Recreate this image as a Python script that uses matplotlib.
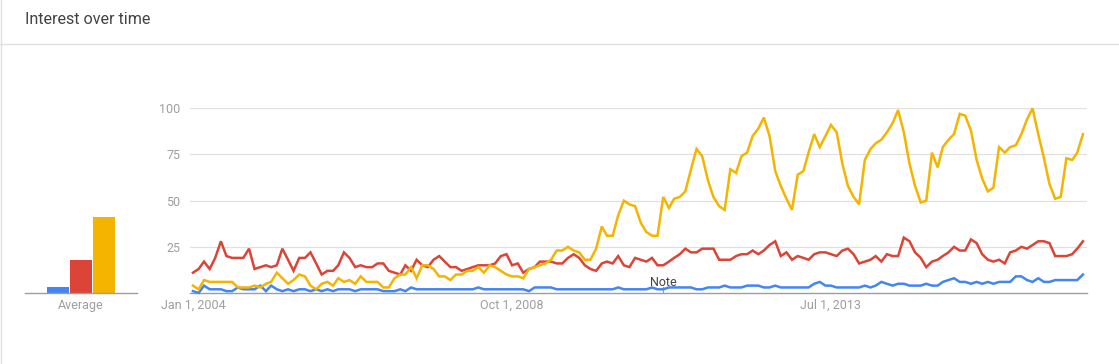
import numpy as np
import pandas as pd
import matplotlib
matplotlib.use("Agg")
import matplotlib.pyplot as plt
import matplotlib.dates as mdates
from matplotlib.lines import Line2D

plt.rcParams['font.family'] = ['Roboto', 'DejaVu Sans']

# ---------------- data ----------------
start_month = "2004-01-01"
n_months = 160

blue_vals = [1, 0, 4, 2, 2, 2, 1, 1, 3, 2, 2, 2, 4, 1, 4, 2, 1, 2, 1, 2,
             2, 1, 2, 1, 2, 1, 2, 2, 2, 1, 2, 2, 2, 2, 1, 1, 1, 2, 1, 3,
             2, 2, 2, 2, 2, 2, 2, 2, 2, 2, 2, 3, 2, 2, 2, 2, 2, 2, 2, 2,
             1, 3, 3, 3, 3, 2, 2, 2, 2, 2, 2, 2, 2, 2, 2, 2, 3, 2, 2, 2,
             2, 2, 3, 2, 2, 3, 3, 3, 3, 3, 2, 2, 3, 3, 3, 4, 3, 3, 3, 4,
             4, 4, 3, 3, 4, 3, 3, 3, 3, 3, 3, 5, 6, 4, 4, 3, 3, 3, 3, 3,
             4, 3, 4, 6, 5, 4, 5, 5, 4, 4, 4, 5, 4, 4, 6, 7, 8, 6, 6, 5,
             6, 5, 6, 5, 6, 6, 6, 9, 9, 7, 6, 8, 6, 6, 7, 7, 7, 7, 7, 10]

red_vals = [11, 13, 17, 13, 19, 28, 20, 19, 19, 19, 24, 13, 14, 15, 14, 15, 24, 18, 12, 19,
            19, 22, 16, 10, 12, 12, 15, 22, 19, 14, 15, 14, 14, 16, 16, 12, 11, 10, 15, 12,
            18, 15, 14, 18, 20, 17, 14, 14, 12, 13, 14, 15, 15, 15, 16, 20, 21, 15, 16, 11,
            13, 14, 17, 17, 17, 16, 16, 19, 21, 19, 15, 13, 12, 16, 17, 16, 20, 15, 14, 19,
            18, 17, 19, 15, 15, 17, 19, 21, 24, 22, 22, 24, 24, 24, 18, 18, 18, 20, 21, 21,
            23, 21, 23, 26, 28, 20, 22, 18, 20, 19, 18, 21, 22, 22, 21, 20, 23, 24, 21, 16,
            17, 18, 20, 17, 21, 20, 20, 30, 28, 22, 19, 14, 17, 18, 20, 22, 25, 23, 23, 29,
            27, 21, 18, 17, 18, 16, 22, 23, 25, 24, 26, 28, 28, 27, 20, 20, 20, 21, 24, 28]

yellow_vals = [4, 2, 7, 6, 6, 6, 6, 6, 3, 3, 3, 4, 3, 5, 6, 11, 8, 5, 7, 10,
               9, 4, 2, 5, 6, 4, 8, 6, 7, 5, 9, 6, 6, 6, 3, 3, 8, 10, 10, 14,
               8, 15, 15, 13, 9, 9, 7, 10, 10, 12, 12, 14, 11, 15, 14, 12, 10, 9, 9, 8,
               13, 14, 15, 16, 18, 23, 23, 25, 23, 22, 18, 18, 24, 36, 31, 31, 42, 50, 48, 47,
               38, 33, 31, 31, 52, 46, 51, 52, 55, 67, 78, 74, 61, 52, 47, 45, 67, 65, 74, 76,
               85, 89, 95, 85, 66, 58, 51, 45, 64, 66, 76, 86, 79, 85, 91, 87, 70, 58, 52, 48,
               72, 78, 81, 83, 87, 92, 99, 87, 70, 58, 49, 50, 76, 68, 79, 83, 86, 97, 96, 88,
               72, 62, 55, 57, 79, 76, 79, 80, 86, 94, 100, 86, 73, 59, 51, 52, 73, 72, 76, 86]

average_vals = [3, 18, 41]
series_colors = ["#4285F4", "#DB4437", "#F4B400"]

y_ticks = [25, 50, 75, 100]
x_tick_dates = ["2004-01-01", "2008-10-01", "2013-07-01"]
x_tick_labels = ["Jan 1, 2004", "Oct 1, 2008", "Jul 1, 2013"]
note_date = "2011-01-01"

# ---------------- layout helpers ----------------
W, H = 1119, 364
fig = plt.figure(figsize=(W / 100, H / 100), dpi=100)
fig.patch.set_facecolor("white")


def rect(x0, ytop, x1, ybot):
    return [x0 / W, 1 - ybot / H, (x1 - x0) / W, (ybot - ytop) / H]


def fig_line(x0, y0, x1, y1, color, lw):
    fig.add_artist(Line2D([x0 / W, x1 / W], [1 - y0 / H, 1 - y1 / H],
                          transform=fig.transFigure, color=color, lw=lw))


# card borders
fig_line(0.5, 0, 0.5, H, "#e0e0e0", 1.0)
fig_line(0, 43.5, W, 43.5, "#e0e0e0", 1.0)
fig.text(25 / W, 1 - 19 / H, "Interest over time", fontsize=11.6, color="#424242",
         ha="left", va="center")

# ---------------- main line chart ----------------
dates = pd.date_range(start_month, periods=n_months, freq="MS")
ax = fig.add_axes(rect(190, 108.3, 1087, 293))
t0 = pd.Timestamp(start_month)
ax.set_xlim(mdates.date2num(t0 - pd.Timedelta(days=16)),
            mdates.date2num(t0 + pd.Timedelta(days=4861)))
ax.set_ylim(0, 100)

for yv in y_ticks:
    ax.axhline(yv, color="#e0e0e0", lw=0.9, zorder=0)
ax.axhline(0, color="#9e9e9e", lw=1.0, zorder=1, clip_on=False)

for vals, col in zip([blue_vals, red_vals, yellow_vals], series_colors):
    ax.plot(dates, vals, color=col, lw=1.8, solid_joinstyle="miter",
            clip_on=False, zorder=3)

for s in ax.spines.values():
    s.set_visible(False)
ax.set_yticks(y_ticks)
ax.set_yticklabels([str(v) for v in y_ticks])
ax.set_xticks(mdates.date2num(pd.to_datetime(x_tick_dates)))
ax.set_xticklabels(x_tick_labels)
ax.tick_params(axis="both", length=0, colors="#9e9e9e", labelsize=9)
ax.tick_params(axis="y", pad=7)
ax.tick_params(axis="x", pad=4)
ax.patch.set_alpha(0)

# note marker
nd = mdates.date2num(pd.Timestamp(note_date))
ax.plot([nd, nd], [0, 3], color="#9e9e9e", lw=0.8, clip_on=False, zorder=2)
ax.text(nd, 5.5, "Note", ha="center", va="center", fontsize=9, color="#424242",
        zorder=4)

# ---------------- average bars ----------------
bx = fig.add_axes(rect(25, 108.3, 137, 293))
bx.set_xlim(-1.435, 3.435)
bx.set_ylim(0, 100)
bx.bar(np.arange(len(average_vals)), average_vals, width=0.94,
       color=series_colors, zorder=2)
bx.axhline(0, color="#9e9e9e", lw=1.0, zorder=3, clip_on=False)
for s in bx.spines.values():
    s.set_visible(False)
bx.set_yticks([])
bx.set_xticks([1])
bx.set_xticklabels(["Average"])
bx.tick_params(axis="x", length=0, colors="#9e9e9e", labelsize=9, pad=4)
bx.patch.set_alpha(0)

fig.savefig("out.png", dpi=100, facecolor="white")
